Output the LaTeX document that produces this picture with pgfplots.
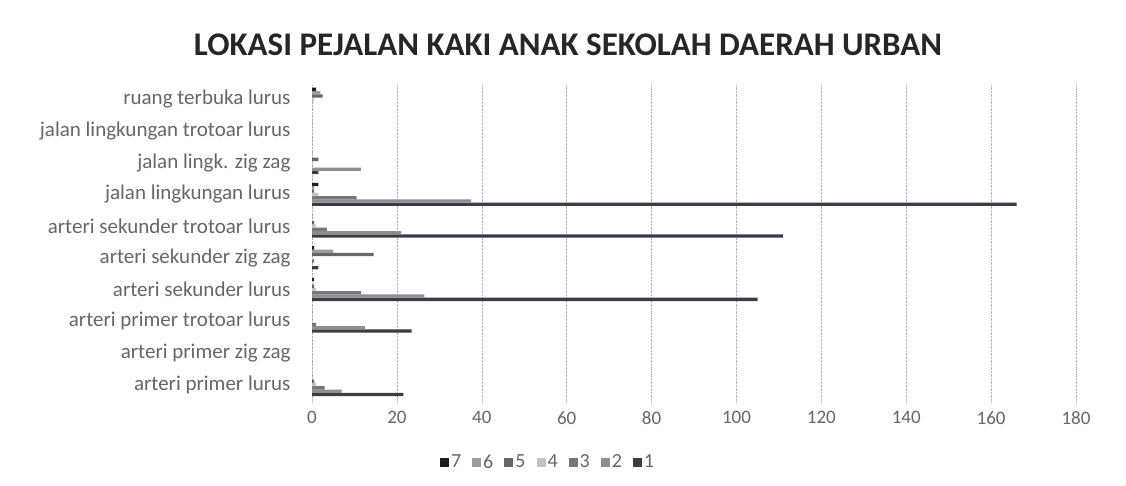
\documentclass[border=0pt]{standalone}
\usepackage{pgfplots}
\pgfplotsset{compat=1.18}
\usepackage{fontspec}
\setmainfont{Carlito}
\definecolor{sA}{HTML}{3A3D44}
\definecolor{sB}{HTML}{8E8E8E}
\definecolor{sC}{HTML}{777777}
\definecolor{sD}{HTML}{C4C4C4}
\definecolor{sE}{HTML}{666666}
\definecolor{sF}{HTML}{9C9C9C}
\definecolor{sG}{HTML}{1E1E1E}
\definecolor{txt}{HTML}{666666}
\begin{document}
\begin{tikzpicture}
\path[use as bounding box] (0,0) rectangle (1126pt,486pt);
\begin{axis}[
  at={(312pt,84pt)}, anchor=south west,
  scale only axis, width=764pt, height=317pt,
  xbar, bar width=3.3pt,
  xmin=0, xmax=180, ymin=-0.55, ymax=9.45,
  xtick={0,20,...,180},
  ytick={0,...,9},
  yticklabels={arteri primer lurus, arteri primer zig zag, arteri primer trotoar lurus, arteri sekunder lurus, arteri sekunder zig zag, arteri sekunder trotoar lurus, jalan lingkungan lurus, {jalan lingk. zig zag}, jalan lingkungan trotoar lurus, ruang terbuka lurus},
  xmajorgrids, grid style={densely dotted, gray!60},
  axis line style={draw=none},
  major tick length=0pt,
  /pgf/number format/assume math mode=true,
  xticklabel style={font=\fontsize{19}{19}\selectfont, text=txt, yshift=-6pt},
  yticklabel style={font=\fontsize{21}{21}\selectfont, text=txt, xshift=-18pt},
  legend columns=-1, reverse legend,
  legend style={at={(0.309,-0.19)}, anchor=center, draw=none, fill=none,
    font=\fontsize{20}{20}\selectfont, text=txt,
    /tikz/every even column/.append style={column sep=9pt}},
  legend image code/.code={\fill[#1] (0pt,-4.5pt) rectangle (9pt,4.5pt);},
]
\addplot[fill=sA, draw=none, bar shift=-9.9pt] coordinates {(21.5,0) (0,1) (23.5,2) (105,3) (1.5,4) (111,5) (166,6) (1.5,7) (0,8) (0,9)};
\addplot[fill=sB, draw=none, bar shift=-6.6pt] coordinates {(7,0) (0,1) (12.5,2) (26.5,3) (0,4) (21,5) (37.5,6) (11.5,7) (0,8) (0,9)};
\addplot[fill=sC, draw=none, bar shift=-3.3pt] coordinates {(3,0) (0,1) (1,2) (11.5,3) (0.5,4) (3.5,5) (10.5,6) (0,7) (0,8) (0,9)};
\addplot[fill=sD, draw=none, bar shift=0pt] coordinates {(1,0) (0,1) (0,2) (1,3) (0,4) (1,5) (1.5,6) (0,7) (0,8) (0.5,9)};
\addplot[fill=sE, draw=none, bar shift=3.3pt] coordinates {(0.5,0) (0,1) (0,2) (0.5,3) (14.5,4) (0.5,5) (0.5,6) (1.5,7) (0,8) (2.5,9)};
\addplot[fill=sF, draw=none, bar shift=6.6pt] coordinates {(0,0) (0,1) (0,2) (0,3) (5,4) (0,5) (0.5,6) (0,7) (0,8) (2,9)};
\addplot[fill=sG, draw=none, bar shift=9.9pt] coordinates {(0,0) (0,1) (0,2) (0.5,3) (0.5,4) (0,5) (1.5,6) (0,7) (0,8) (1,9)};
\legend{1,2,3,4,5,6,7}
\end{axis}
\node[font=\fontsize{33}{33}\selectfont\bfseries, text=black!85] at (568pt,441pt) {LOKASI PEJALAN KAKI ANAK SEKOLAH DAERAH URBAN};
\end{tikzpicture}
\end{document}
